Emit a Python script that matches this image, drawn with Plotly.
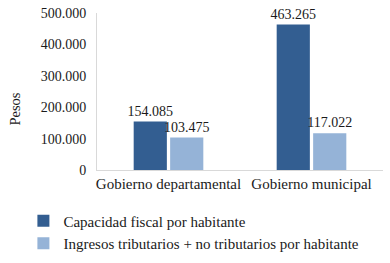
import plotly.graph_objects as go

categories = ["Gobierno departamental", "Gobierno municipal"]
series_names = ["Capacidad fiscal por habitante",
                "Ingresos tributarios + no tributarios por habitante"]
capacidad = [154085, 463265]
ingresos = [103475, 117022]
colors = ["#335E91", "#95B3D7"]
y_title = "Pesos"

FONT = "Liberation Serif"
FS = 15
TXT = "#1a1a1a"
fig = go.Figure()
for i, (name, vals) in enumerate(zip(series_names, [capacidad, ingresos])):
    fig.add_trace(go.Bar(
        x=categories, y=vals, name=name,
        marker=dict(color=colors[i], line=dict(width=0)),
        texttemplate="%{y:,.0f}", textposition="outside",
        constraintext="none",
        textfont=dict(family=FONT, size=14, color=TXT),
        cliponaxis=False, legendgroup=f"g{i}",
    ))

fig.add_annotation(text=y_title, textangle=-90, xref="paper", yref="paper",
                   x=-0.29, y=0.385, xanchor="center", yanchor="middle",
                   showarrow=False, font=dict(family=FONT, size=14.5, color=TXT))

fig.update_layout(
    width=390, height=263,
    margin=dict(l=97, r=7, t=13, b=93, autoexpand=False),
    paper_bgcolor="white", plot_bgcolor="white",
    separators=",.",
    barmode="group", bargap=0.49, bargroupgap=0.09,
    font=dict(family=FONT, size=FS, color=TXT),
    showlegend=True,
    legend=dict(orientation="v", xref="container", yref="container",
                x=0.060, xanchor="left", y=0.222, yanchor="top",
                traceorder="grouped", tracegroupgap=0,
                font=dict(family=FONT, size=FS, color=TXT),
                bgcolor="rgba(0,0,0,0)"),
    xaxis=dict(showline=True, linecolor="#D9D9D9", linewidth=1, ticks="",
               automargin=False,
               tickfont=dict(family=FONT, size=FS)),
    yaxis=dict(range=[0, 500000], dtick=100000, tickformat=",.0f",
               showgrid=False, zeroline=False, showline=True, linecolor="#D9D9D9",
               linewidth=1, ticks="", ticklen=0, automargin=False,
               ticklabelstandoff=7,
               tickfont=dict(family=FONT, size=14)),
)
fig.write_html("out.html", config={"displayModeBar": False},
               post_script="document.body.style.margin='0';")
